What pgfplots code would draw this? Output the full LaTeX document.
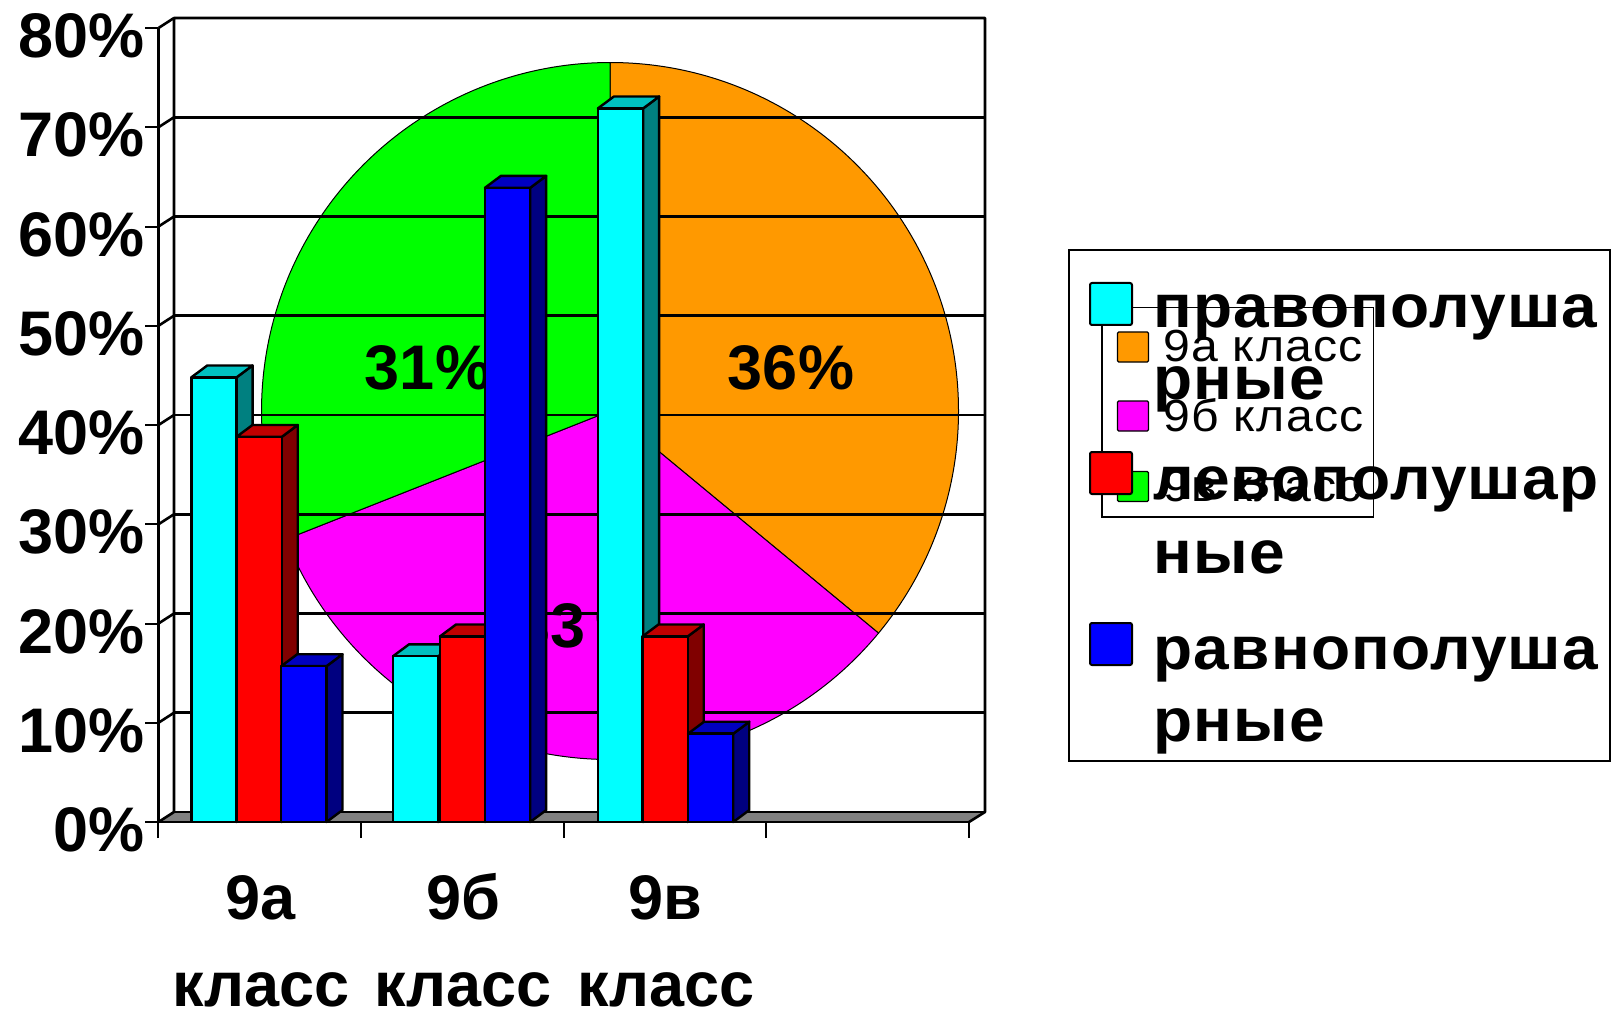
\documentclass[border=0pt]{standalone}
\usepackage{fontspec}
\setmainfont{Liberation Sans}
\usepackage{pgfplots}
\pgfplotsset{compat=1.18}

\definecolor{pieorange}{RGB}{255,153,0}
\definecolor{piemagenta}{RGB}{255,0,255}
\definecolor{piegreen}{RGB}{0,255,0}
\definecolor{floorgray}{RGB}{128,128,128}
\definecolor{cyanfront}{RGB}{0,255,255}
\definecolor{cyantop}{RGB}{0,192,192}
\definecolor{cyanside}{RGB}{0,128,128}
\definecolor{redfront}{RGB}{255,0,0}
\definecolor{redtop}{RGB}{192,0,0}
\definecolor{redside}{RGB}{128,0,0}
\definecolor{bluefront}{RGB}{0,0,255}
\definecolor{bluetop}{RGB}{0,0,192}
\definecolor{blueside}{RGB}{0,0,128}

% bar width and depth offset, in axis units
\def\barw{0.2235}
\def\depthx{0.079}
\def\depthy{1.2}

% left edge, value, colour prefix
\newcommand{\threedbar}[3]{%
  \pgfmathsetmacro\xa{#1}%
  \pgfmathsetmacro\xb{#1+\barw}%
  \pgfmathsetmacro\xc{#1+\depthx}%
  \pgfmathsetmacro\xd{#1+\barw+\depthx}%
  \pgfmathsetmacro\vt{#2+\depthy}%
  \addplot[forget plot,fill=#3side,draw=black,line width=1.2pt,line join=round]
    coordinates {(\xb,0) (\xd,\depthy) (\xd,\vt) (\xb,#2)} --cycle;
  \addplot[forget plot,fill=#3top,draw=black,line width=1.2pt,line join=round]
    coordinates {(\xa,#2) (\xc,\vt) (\xd,\vt) (\xb,#2)} --cycle;
  \addplot[forget plot,fill=#3front,draw=black,line width=1.2pt,line join=round]
    coordinates {(\xa,0) (\xb,0) (\xb,#2) (\xa,#2)} --cycle;
}

% start angle, end angle, colour
\newcommand{\slice}[3]{%
  \filldraw[fill=#3,draw=black,line width=0.5pt]
    (axis cs:610,411) -- ++(#1:174.25pt) arc[start angle=#1,end angle=#2,radius=174.25pt] -- cycle;
}

\begin{document}
\begin{tikzpicture}
  \path[use as bounding box] (0,0) rectangle (809pt,504.5pt);

  % pie chart underneath
  \begin{axis}[
      at={(0pt,0pt)},anchor=south west,
      scale only axis,width=809pt,height=504.5pt,
      xmin=0,xmax=1618,ymin=0,ymax=1009,y dir=reverse,
      hide axis,clip=false]
    \slice{90}{-39.6}{pieorange}
    \slice{-39.6}{-158.4}{piemagenta}
    \slice{-158.4}{-270}{piegreen}
    \node[font=\fontsize{31.5}{32}\selectfont\bfseries] at (axis cs:791,368) {36\%};
    \node[anchor=west,inner sep=0pt,font=\fontsize{31.5}{32}\selectfont\bfseries] at (axis cs:515,626) {33\kern5pt\%};
    \node[font=\fontsize{31.5}{32}\selectfont\bfseries] at (axis cs:428,368) {31\%};
  \end{axis}

  \begin{scope}[x=0.5pt,y=-0.5pt,shift={(0pt,504.5pt)}]
  % pie legend
  \draw[line width=0.8pt] (1102,307.5) rectangle (1373.5,517);
  \foreach \c/\ya/\yb/\t in {pieorange/332/362/9а класс,piemagenta/401/431/9б класс,piegreen/471.5/501.5/9в класс}{
    \filldraw[fill=\c,draw=black,line width=0.6pt,rounded corners=0.6pt] (1117.5,\ya) rectangle (1148.5,\yb);
    \node[anchor=base west,inner sep=0pt,font=\fontsize{22.5}{24}\selectfont\addfontfeature{FakeStretch=1.07,LetterSpace=3}] at (1163,\yb) {\t};
  }

  % walls of the bar chart
  \fill[floorgray] (158.5,822) -- (174,812) -- (985,812) -- (969,822) -- cycle;
  \draw[line width=1.3pt,line join=round] (174,812) -- (174,18) -- (985,18) -- (985,812) -- (969,822);
  \draw[line width=1.3pt] (174,812) -- (985,812);
  \foreach \k in {0,...,8}{
    \draw[line width=1.3pt] (158.5,822-99.25*\k) -- (174,812-99.25*\k);
    \ifnum\k>0 \draw[line width=1.3pt] (174,812-99.25*\k) -- (985,812-99.25*\k); \fi
  }
  \end{scope}

  % bars
  \begin{axis}[
      at={(79.25pt,93.5pt)},anchor=south west,
      scale only axis,width=405pt,height=397pt,
      xmin=0,xmax=4,ymin=0,ymax=80,clip=false,
      axis x line=bottom,axis y line=left,
      axis line style={-,line width=1.3pt},
      tick align=outside,
      xtick={0,1,2,3,4},
      x tick label as interval,
      xticklabels={\vphantom{б}9а\\класс,\vphantom{б}9б\\класс,\vphantom{б}9в\\класс,{}},
      ytick={0,10,...,80},
      yticklabel={\pgfmathprintnumber{\tick}\%},
      /pgf/number format/assume math mode=true,
      xtick style={line width=1pt,black,/pgfplots/major tick length=8pt},
      ytick style={line width=1pt,black,/pgfplots/major tick length=6.5pt},
      xticklabel style={align=center,font=\fontsize{31.5}{43.5}\selectfont\bfseries,yshift=-18pt,xshift=0.5pt},
      yticklabel style={font=\fontsize{31.5}{32}\selectfont\bfseries,yshift=-4pt,xshift=1pt},
    ]
    % 9а
    \threedbar{0.162}{44.8}{cyan}
    \threedbar{0.385}{38.8}{red}
    \threedbar{0.606}{15.7}{blue}
    % 9б
    \threedbar{1.158}{16.7}{cyan}
    \threedbar{1.390}{18.7}{red}
    \threedbar{1.612}{63.9}{blue}
    % 9в
    \threedbar{2.170}{71.9}{cyan}
    \threedbar{2.390}{18.7}{red}
    \threedbar{2.615}{8.9}{blue}
  \end{axis}

  \begin{scope}[x=0.5pt,y=-0.5pt,shift={(0pt,504.5pt)}]
  % bar legend
  \draw[line width=1pt] (1069,250) rectangle (1610,760.5);
  \foreach \c/\ya in {cyanfront/283,redfront/452,bluefront/623}{
    \filldraw[fill=\c,draw=black,line width=1pt,rounded corners=1pt] (1090,\ya) rectangle +(42,42);
  }
  \foreach \y/\t in {327/правополуша,399/рные,499.5/левополушар,573/ные,669/равнополуша,741/рные}{
    \node[anchor=base west,inner sep=0pt,font=\fontsize{30.5}{32}\selectfont\bfseries\addfontfeature{FakeStretch=1.05,LetterSpace=2}] at (1153,\y) {\t};
  }
  \end{scope}
\end{tikzpicture}
\end{document}
